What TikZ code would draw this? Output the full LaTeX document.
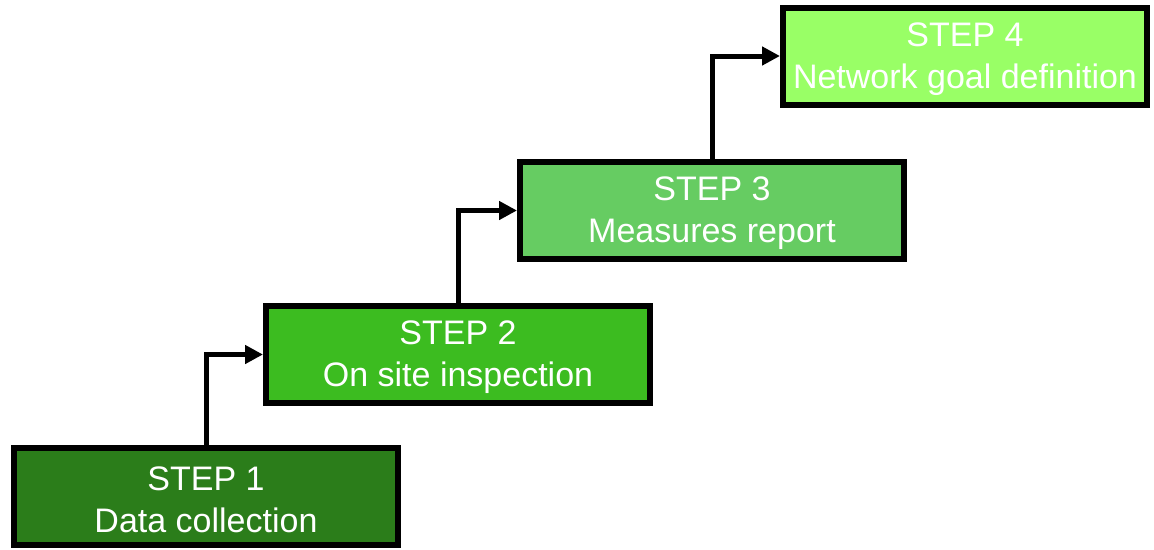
\documentclass[tikz,border=0pt]{standalone}
\usepackage{fontspec}
\setmainfont{Liberation Sans}
\usetikzlibrary{arrows.meta}
\definecolor{gA}{RGB}{43,125,26}
\definecolor{gB}{RGB}{60,188,32}
\definecolor{gC}{RGB}{102,204,98}
\definecolor{gD}{RGB}{153,255,102}
\tikzset{
  stepbox/.style={draw=black, line width=6pt, rectangle, minimum width=384pt, minimum height=97pt,
    text=white, align=center, inner sep=0pt, font=\fontsize{34}{42}\selectfont},
  conn/.style={line width=5pt, -{Triangle[length=18pt,width=18pt]}}
}
\begin{document}
\begin{tikzpicture}[x=1pt,y=-1pt]
\useasboundingbox[fill=white] (0,0) rectangle (1154,549);
\node[stepbox, fill=gA] (s1) at (206,496.5) {\rule{0pt}{30pt}STEP 1\\Data collection};
\node[stepbox, fill=gB] (s2) at (458,354.5) {\rule{0pt}{30pt}STEP 2\\On site inspection};
\node[stepbox, fill=gC] (s3) at (712,210.5) {\rule{0pt}{30pt}STEP 3\\Measures report};
\node[stepbox, fill=gD, minimum width=364pt] (s4) at (965,56) {\rule{0pt}{30pt}STEP 4\\Network goal definition};
\draw[conn] (s1.north) |- (s2.west);
\draw[conn] (s2.north) |- (s3.west);
\draw[conn] (s3.north) |- (s4.west);
\end{tikzpicture}
\end{document}
